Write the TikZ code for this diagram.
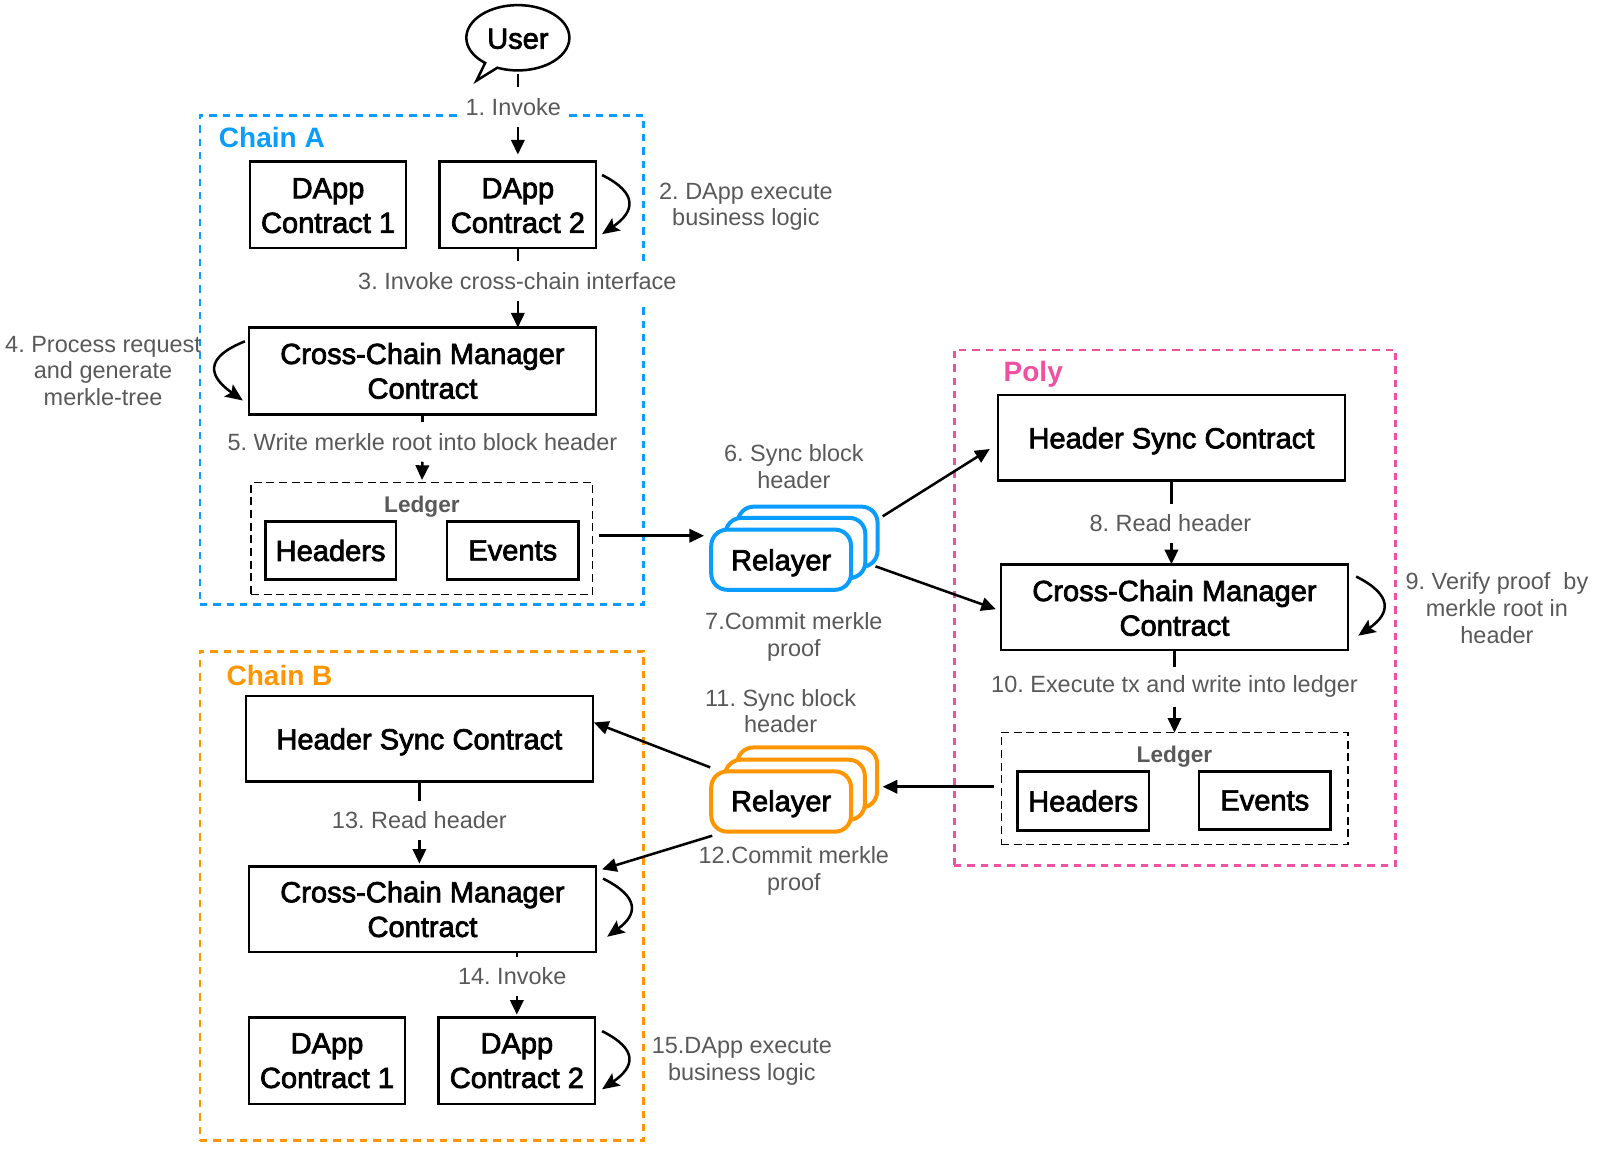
\documentclass[tikz,border=0pt]{standalone}
\usepackage{fontspec}
\setmainfont{Liberation Sans}
\newfontfamily\boxfont[FakeBold=2.5]{Liberation Sans}
\usetikzlibrary{arrows.meta,shapes.callouts,shapes.geometric}
\definecolor{chainblue}{HTML}{0A9DFF}
\definecolor{chainpink}{HTML}{F050A0}
\definecolor{chainorange}{HTML}{FF9500}
\definecolor{labelgray}{HTML}{595959}
\newcommand\nudged[2]{\raisebox{-#1}[\height][\depth]{#2}}
\tikzset{
  sz/.style 2 args={minimum width=#1*0.7653pt,minimum height=#2*0.7653pt,inner sep=0pt,outer sep=0pt},
  box/.style={draw=black,line width=2pt,fill=white,align=center,font=\boxfont\fontsize{21.8}{26}\selectfont},
  chain/.style={line width=2.2pt,dash pattern=on 5.5pt off 4.5pt},
  ledger/.style={draw=black,line width=0.8pt,dash pattern=on 6pt off 3.5pt},
  ledgername/.style={text=labelgray,font=\bfseries\fontsize{17}{20}\selectfont},
  chainname/.style={anchor=west,font=\bfseries\fontsize{21}{25}\selectfont},
  lab/.style={text=labelgray,align=center,inner sep=1pt,font=\fontsize{17.6}{20}\selectfont},
  labw/.style={lab,fill=white,minimum height=39*0.7653pt,inner xsep=5pt,outer sep=0pt},
  relay/.style={rounded corners=12pt,fill=white,line width=3pt,align=center,font=\boxfont\fontsize{21.8}{26}\selectfont},
  link/.style={line width=1.9pt},
  flow/.style={line width=1.9pt,-{Triangle[length=11pt,width=10pt]}},
  selfloop/.style={line width=1.9pt,-{Stealth[length=13pt,width=11pt,inset=2.5pt]}},
}
\begin{document}
\frenchspacing
\begin{tikzpicture}[x=0.7653pt,y=-0.7653pt]
\useasboundingbox (0,0) rectangle (1568,1136);
% containers
\node[chain,draw=chainblue,sz={435}{479}] (chainA) at (413.5,352.5) {};
\node[chain,draw=chainpink,sz={433}{505}] (poly) at (1151.5,595.5) {};
\node[chain,draw=chainorange,sz={435}{480}] (chainB) at (413.5,878) {};
\node[chainname,text=chainblue] (nameA) at (210,135) {Chain A};
\node[chainname,text=chainpink] (nameP) at (979,367) {Poly};
\node[chainname,text=chainorange] (nameB) at (217.5,662) {Chain B};
% user
\node[ellipse callout,draw=black,line width=1.9pt,fill=white,sz={101}{64},callout absolute pointer={(467,79)},callout pointer arc=16,font=\boxfont\fontsize{21.8}{26}\selectfont] (user) at (507.5,37) {\nudged{0.8pt}{User}};
% boxes
\node[box,sz={153}{85}] (dappA1) at (321.5,200.5) {\nudged{0.8pt}{DApp}\\\nudged{0.8pt}{Contract 1}};
\node[box,sz={153}{85}] (dappA2) at (507.5,200.5) {\nudged{0.8pt}{DApp}\\\nudged{0.8pt}{Contract 2}};
\node[box,sz={340}{85}] (ccmA) at (414,363.5) {Cross-Chain Manager\\Contract};
\node[ledger,sz={335}{110}] (ledgerA) at (413.5,528) {};
\node[ledgername] (ledgerAname) at (413.5,497) {Ledger};
\node[box,sz={128}{57}] (hdrA) at (324,539.5) {Headers};
\node[box,sz={129}{57}] (evtA) at (502.5,539.5) {Events};
\node[box,sz={340}{84}] (hsP) at (1148,429) {\nudged{2.3pt}{Header Sync Contract}};
\node[box,sz={340}{84}] (ccmP) at (1151,595) {\nudged{0.6pt}{Cross-Chain Manager}\\\nudged{0.6pt}{Contract}};
\node[ledger,sz={340}{110}] (ledgerP) at (1151,773) {};
\node[ledgername] (ledgerPname) at (1151,742) {Ledger};
\node[box,sz={129}{58}] (hdrP) at (1061.5,785) {Headers};
\node[box,sz={129}{57}] (evtP) at (1239.5,784.5) {Events};
\node[box,sz={340}{84}] (hsB) at (411,724) {\nudged{2.3pt}{Header Sync Contract}};
\node[box,sz={340}{84}] (ccmB) at (414,891) {Cross-Chain Manager\\Contract};
\node[box,sz={153}{85}] (dappB1) at (320.5,1039.5) {DApp\\Contract 1};
\node[box,sz={153}{85}] (dappB2) at (506.5,1039.5) {DApp\\Contract 2};
% relayers
\node[relay,draw=chainblue,sz={137}{59}] (relayA3) at (791.5,526) {};
\node[relay,draw=chainblue,sz={137}{59}] (relayA2) at (779.5,537) {};
\node[relay,draw=chainblue,sz={137}{59}] (relayA1) at (765.5,548.5) {\nudged{2.3pt}{Relayer}};
\node[relay,draw=chainorange,sz={137}{59}] (relayB3) at (791,762) {};
\node[relay,draw=chainorange,sz={137}{59}] (relayB2) at (779,774) {};
\node[relay,draw=chainorange,sz={137}{59}] (relayB1) at (765.5,785.5) {\nudged{1.6pt}{Relayer}};
% labels
\node[labw] (l1) at (503,105) {1. Invoke};
\node[lab] (l2) at (731,202.5) {2. DApp execute\\business logic};
\node[labw] (l3) at (507,275) {3. Invoke cross-chain interface};
\node[lab] (l4) at (101,363.5) {4. Process request\\and generate\\merkle-tree};
\node[labw] (l5) at (414,433) {5. Write merkle root into block header};
\node[lab] (l6) at (778,457.5) {6. Sync block\\header};
\node[lab] (l7) at (778,624) {7.Commit merkle\\proof};
\node[labw] (l8) at (1147,513) {8. Read header};
\node[lab] (l9) at (1467,596) {9. Verify proof~ by\\merkle root in\\header};
\node[labw] (l10) at (1151,673) {10. Execute tx and write into ledger};
\node[lab] (l11) at (765,697) {11. Sync block\\header};
\node[lab] (l12) at (778,853.5) {12.Commit merkle\\proof};
\node[labw] (l13) at (411,804) {13. Read header};
\node[labw] (l14) at (502,957) {14. Invoke};
\node[lab] (l15) at (727,1040) {15.DApp execute\\business logic};
% free ends of the floating connectors
\coordinate (ledgerAout) at (587,525);
\coordinate (relayAin) at (690,525);
\coordinate (relayAup) at (865,506);
\coordinate (hsPin) at (970,440);
\coordinate (relayAdown) at (858,555);
\coordinate (ccmPin) at (976,597);
\coordinate (ledgerPout) at (974,771);
\coordinate (relayBin) at (865,771);
\coordinate (relayBup) at (696,752);
\coordinate (hsBin) at (582,708);
\coordinate (relayBdown) at (698,819);
\coordinate (ccmBin) at (590,852);
% connectors
\draw[link,shorten <=2.5pt] (user.south) -- (user.south |- l1.north);
\draw[flow,shorten >=5pt] (user.south |- l1.south) -- (dappA2.north);
\draw[link] (dappA2.south) -- (dappA2.south |- l3.north);
\draw[flow] (dappA2.south |- l3.south) -- (dappA2.south |- ccmA.north);
\draw[link] (ccmA.south) -- (ccmA.south |- l5.north);
\draw[flow,shorten >=2pt] (ccmA.south |- l5.south) -- (ledgerA.north);
\draw[flow] (ledgerAout) -- (relayAin);
\draw[flow] (relayAup) -- (hsPin);
\draw[flow] (relayAdown) -- (ccmPin);
\draw[link] (hsP.south) -- (hsP.south |- l8.north);
\draw[flow] (hsP.south |- l8.south) -- (hsP.south |- ccmP.north);
\draw[link] (ccmP.south) -- (ccmP.south |- l10.north);
\draw[flow] (ccmP.south |- l10.south) -- (ledgerP.north);
\draw[flow] (ledgerPout) -- (relayBin);
\draw[flow] (relayBup) -- (hsBin);
\draw[flow] (relayBdown) -- (ccmBin);
\draw[link] (hsB.south) -- (hsB.south |- l13.north);
\draw[flow,shorten >=2pt] (hsB.south |- l13.south) -- (hsB.south |- ccmB.north);
\draw[link] (dappB2.north |- ccmB.south) -- (dappB2.north |- l14.north);
\draw[flow,shorten >=2pt] (dappB2.north |- l14.south) -- (dappB2.north);
% self loops
\draw[selfloop] ([shift={(6,-29)}]dappA2.east) .. controls +(36,18) and +(32,-22) .. ([shift={(6,29)}]dappA2.east);
\draw[selfloop] ([shift={(-4,-29)}]ccmA.west) .. controls +(-40,16) and +(-34,-24) .. ([shift={(-6,29)}]ccmA.west);
\draw[selfloop] ([shift={(8,-30)}]ccmP.east) .. controls +(36,18) and +(32,-22) .. ([shift={(10,28)}]ccmP.east);
\draw[selfloop] ([shift={(7,-30)}]ccmB.east) .. controls +(36,18) and +(30,-22) .. ([shift={(11,27)}]ccmB.east);
\draw[selfloop] ([shift={(7,-29)}]dappB2.east) .. controls +(36,18) and +(32,-22) .. ([shift={(7,28)}]dappB2.east);
\end{tikzpicture}
\end{document}
